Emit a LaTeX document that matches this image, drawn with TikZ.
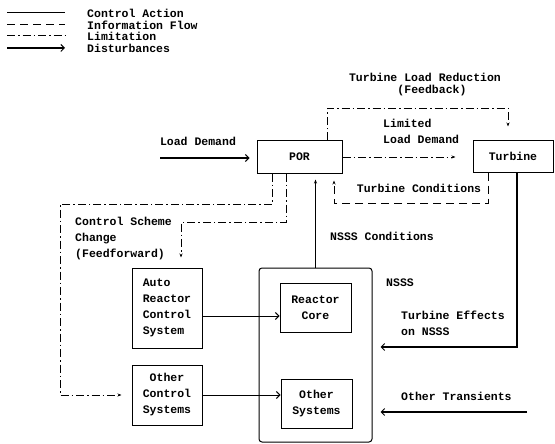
\documentclass[tikz,border=0pt]{standalone}
\usepackage{fontspec}
\setmainfont{Liberation Mono}
\usetikzlibrary{calc,arrows.meta}

\begin{document}
\begin{tikzpicture}[x=1pt,y=-1pt,
	font=\bfseries\fontsize{11.5}{16}\selectfont,
	box/.style={draw,line width=1pt,inner sep=0pt},
	ctrl/.style={line width=1pt},
	info/.style={line width=1pt,dash pattern=on 8pt off 5pt},
	limit/.style={line width=1pt,dash pattern=on 8pt off 3pt on 1.5pt off 3pt},
	dist/.style={line width=2.6pt},
	barb/.style={-{Straight Barb[length=3.5pt,width=7pt,line width=1pt]}},
	small/.style={-{Stealth[length=4pt,width=3pt]}},
	lbl/.style={inner sep=0pt,align=left}]
	\useasboundingbox (0,0) rectangle (555,444);
	% legend
	\coordinate (k1) at (7,13); \coordinate (k1e) at (65,13);
	\coordinate (k2) at (7,25); \coordinate (k2e) at (65,25);
	\coordinate (k3) at (7,36); \coordinate (k3e) at (65,36);
	\coordinate (k4) at (7,48); \coordinate (k4e) at (65,48);
	\draw[ctrl] (k1)--(k1e);
	\draw[info] (k2)--(k2e);
	\draw[limit] (k3)--(k3e);
	\draw[dist,barb] (k4)--(k4e);
	\node[lbl,anchor=west] (t1) at (87,13) {Control Action};
	\node[lbl,anchor=west] (t2) at (87,25) {Information Flow};
	\node[lbl,anchor=west] (t3) at (87,36) {Limitation};
	\node[lbl,anchor=west] (t4) at (87,48) {Disturbances};
	% boxes
	\node[box,minimum width=85pt,minimum height=32pt] (por) at (299.5,157) {POR};
	\node[box,minimum width=80pt,minimum height=31pt] (turbine) at (513,156.5) {Turbine};
	\node[box,rounded corners=3pt,minimum width=113pt,minimum height=174pt] (nsss) at (315.5,355) {};
	\node[box,minimum width=71pt,minimum height=49pt,align=center] (core) at (315.5,307.5) {Reactor\\Core};
	\node[box,minimum width=71pt,minimum height=49pt,align=center] (othersys) at (316.5,403.5) {Other\\Systems};
	\node[box,minimum width=70pt,minimum height=80pt,align=left] (arc) at (167,308) {Auto\\Reactor\\Control\\System};
	\node[box,minimum width=70pt,minimum height=60pt,align=center] (ocs) at (167,395) {Other\\Control\\Systems};
	\node[lbl,anchor=west] (nsssl) at (386,283) {NSSS};
	% control action
	\draw[ctrl,barb] ([yshift=-8pt]arc.east) -- ([yshift=-8pt]arc.east -| core.west);
	\draw[ctrl,barb] (ocs.east) -- (ocs.east -| othersys.west);
	\draw[ctrl,small] (nsss.north) -- ++(0,-88);
	\node[lbl,anchor=west] (nsssc) at (330,236) {NSSS Conditions};
	% information flow
	\draw[info,small] ([xshift=-25pt]turbine.south) -- ++(0,31) -| ++(-154,-23);
	\node[lbl] (tcond) at (419,188) {Turbine Conditions};
	% limitation
	\draw[limit,small,shorten >=17pt] (por.east) -- (turbine.west |- por.east);
	\node[lbl,anchor=north west] (lld) at (383,119) {Limited\\Load Demand};
	\draw[limit,small] ([xshift=27.5pt]por.north) -- ++(0,-32) -| ++(181,18);
	\node[lbl] (tlr) at (425,77) {Turbine Load Reduction};
	\node[lbl] (fb) at (432,91) {(Feedback)};
	\coordinate (cs1) at (60,204);
	\coordinate (cs2) at (181,222);
	\draw[limit,small,shorten >=10pt] ([xshift=-27.5pt]por.south) |- (cs1) |- (ocs.west);
	\draw[limit,small,shorten >=10pt] ([xshift=-13.5pt]por.south) |- (cs2) -- ([xshift=14pt]arc.north);
	\node[lbl,anchor=north west] (csc) at (75,217) {Control Scheme\\Change\\(Feedforward)};
	% disturbances
	\coordinate (ld) at (160,158);
	\draw[dist,barb,shorten >=7pt] (ld) -- (ld -| por.west);
	\node[lbl] (ldl) at (198,141) {Load Demand};
	\coordinate (te) at (517,347);
	\draw[dist,barb,shorten >=8pt] ([xshift=4pt]turbine.south) -- (te) -- (te -| nsss.east);
	\node[lbl,anchor=north west] (tel) at (401,311) {Turbine Effects\\on NSSS};
	\coordinate (ot) at (527,412);
	\draw[dist,barb,shorten >=8pt] (ot) -- (ot -| nsss.east);
	\node[lbl,anchor=west] (otl) at (401,396) {Other Transients};
\end{tikzpicture}
\end{document}
